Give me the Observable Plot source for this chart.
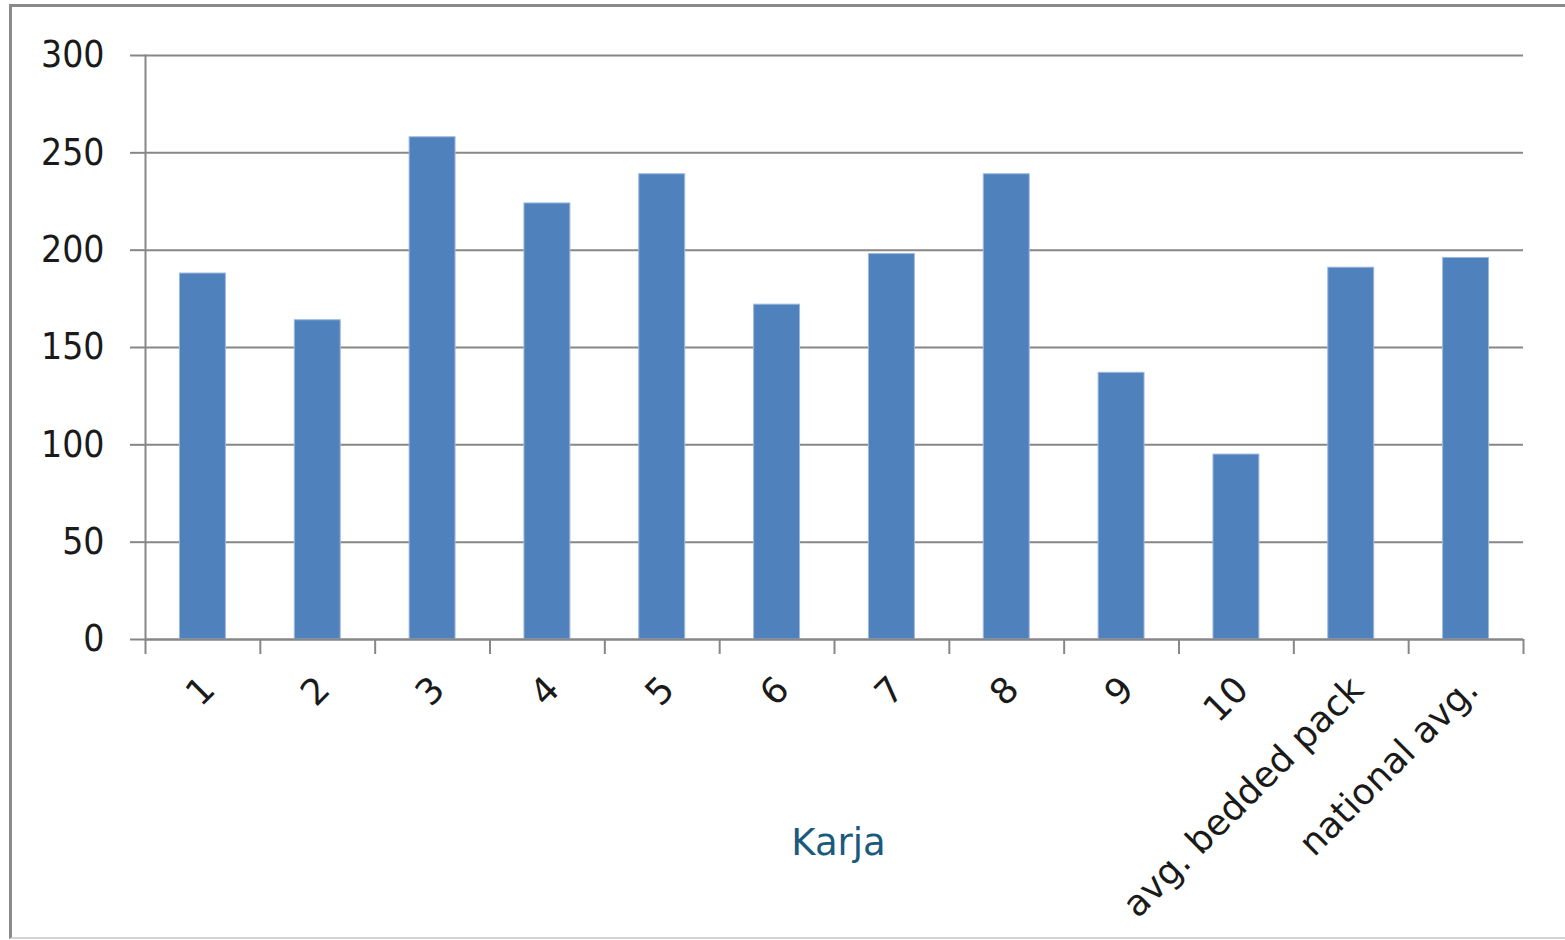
<!DOCTYPE html>
<html>
<head>
<meta charset="utf-8">
<script src="https://cdn.jsdelivr.net/npm/d3@7"></script>
<script src="https://cdn.jsdelivr.net/npm/@observablehq/plot@0.6"></script>
<style>
  html, body { margin: 0; padding: 0; background: #fff; }
  #wrap { position: relative; width: 1565px; height: 940px; overflow: hidden; }
  #frame { position: absolute; left: 9px; top: 4px; width: 1600px; height: 935px;
           border-left: 3px solid #8a8a8a; border-top: 3px solid #8a8a8a; border-bottom: 2px solid #d4d4d4; box-sizing: border-box; }
  #chart { position: absolute; left: 0; top: 0; }
</style>
</head>
<body>
<div id="wrap"><div id="frame"></div><div id="chart"></div></div>
<script>
const categories = ["1", "2", "3", "4", "5", "6", "7", "8", "9", "10", "avg. bedded pack", "national avg."];
const values = [188, 164, 258, 224, 239, 172, 198, 239, 137, 95, 191, 196];
const yTicks = [0, 50, 100, 150, 200, 250, 300];
const axisTitle = "Karja";

const data = categories.map((c, i) => ({category: c, value: values[i]}));

const W = 1565, H = 940, ML = 145, MR = 42, MT = 55, MB = 301;
const step = (W - ML - MR) / categories.length;
const gray = "#878787";

const chart = Plot.plot({
  width: W,
  height: H,
  marginLeft: ML,
  marginRight: MR,
  marginTop: MT,
  marginBottom: MB,
  style: {fontFamily: "'DejaVu Sans Condensed', 'DejaVu Sans', sans-serif", fontSize: "37px", color: "#1a1a1a", background: "transparent"},
  x: {type: "band", domain: categories, paddingInner: 0.6, paddingOuter: 0.3, round: false},
  y: {domain: [0, 300], ticks: yTicks},
  marks: [
    Plot.gridY(yTicks, {stroke: gray, strokeOpacity: 1, strokeWidth: 2}),
    Plot.axisY(yTicks, {tickSize: 15, tickPadding: 26, stroke: gray, strokeWidth: 2, strokeOpacity: 1, label: null, fontSize: 37}),
    Plot.frame({anchor: "left", stroke: gray, strokeWidth: 2}),
    Plot.barY(data, {x: "category", y: "value", fill: "#4f81bd", stroke: "#9db8dc", strokeWidth: 1}),
    Plot.ruleY([0], {stroke: gray, strokeWidth: 2}),
    Plot.ruleX(categories, {x: d => d, y1: () => 0, y2: () => 0, insetBottom: -15, dx: -step / 2, stroke: gray, strokeWidth: 2}),
    Plot.ruleX([categories[categories.length - 1]], {x: d => d, y1: () => 0, y2: () => 0, insetBottom: -15, dx: step / 2, stroke: gray, strokeWidth: 2}),
    Plot.axisX({ticks: [], tickSize: 0, label: null}),
    Plot.text(categories, {x: d => d, y: () => 0, text: d => d, rotate: -45, textAnchor: "end", lineAnchor: "middle", dx: 6, dy: 44, fontSize: 36, fill: "#1a1a1a", fontFamily: "'DejaVu Sans', sans-serif"}),
    Plot.text([axisTitle], {frameAnchor: "bottom", text: d => d, dy: 204, dx: 4, lineAnchor: "middle", fontSize: 37, fill: "#1a5a7c", fontFamily: "'DejaVu Sans', sans-serif"})
  ]
});
document.getElementById("chart").appendChild(chart);
</script>
</body>
</html>
